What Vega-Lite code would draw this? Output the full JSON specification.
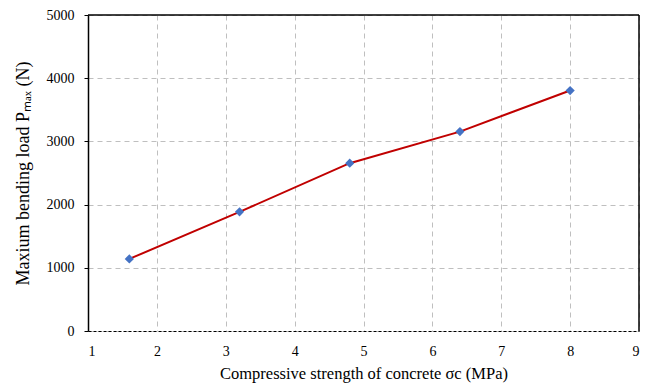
{
  "$schema": "https://vega.github.io/schema/vega-lite/v6.json",
  "width": 551,
  "height": 316,
  "autosize": {"type": "none"},
  "padding": {"left": 88, "top": 15, "right": 11, "bottom": 54},
  "background": "white",
  "config": {
    "view": {"stroke": null},
    "font": "Liberation Serif",
    "axis": {
      "labelFont": "Liberation Serif",
      "titleFont": "Liberation Serif",
      "labelColor": "black",
      "titleColor": "black",
      "labelFontSize": 14,
      "titleFontWeight": "normal",
      "gridColor": "#bfbfbf",
      "gridDash": [5, 4],
      "gridWidth": 1,
      "tickColor": "black",
      "tickSize": 4,
      "format": "d"
    }
  },
  "data": {
    "values": [
      {"strength": 1.6, "load": 1140},
      {"strength": 3.2, "load": 1885},
      {"strength": 4.8, "load": 2655},
      {"strength": 6.4, "load": 3155},
      {"strength": 8.0, "load": 3805}
    ]
  },
  "layer": [
    {
      "mark": {"type": "line", "color": "#c00000", "strokeWidth": 2},
      "encoding": {
        "x": {
          "field": "strength",
          "type": "quantitative",
          "scale": {"domain": [1, 9], "nice": false},
          "axis": {
            "values": [1, 2, 3, 4, 5, 6, 7, 8, 9],
            "format": "d",
            "title": "Compressive strength of concrete σc (MPa)",
            "titleFontSize": 16.5,
            "titlePadding": 7,
            "labelPadding": 13,
            "domainColor": "black",
            "domainDash": [3, 2],
            "domainWidth": 1,
            "ticks": false
          }
        },
        "y": {
          "field": "load",
          "type": "quantitative",
          "scale": {"domain": [0, 5000], "nice": false},
          "axis": {
            "values": [0, 1000, 2000, 3000, 4000, 5000],
            "format": "d",
            "title": "Maxium bending load Pₘₐₓ (N)",
            "titleFontSize": 18,
            "titlePadding": 14,
            "labelPadding": 10,
            "domainColor": "black",
            "domainWidth": 1.5
          }
        }
      }
    },
    {
      "mark": {"type": "point", "shape": "diamond", "filled": true, "color": "#4472c4", "size": 85, "opacity": 1},
      "encoding": {
        "x": {"field": "strength", "type": "quantitative"},
        "y": {"field": "load", "type": "quantitative"}
      }
    },
    {
      "data": {"values": [{"edge": "top"}]},
      "mark": {"type": "rule", "color": "black", "strokeWidth": 1.5},
      "encoding": {"y": {"datum": 5000, "type": "quantitative"}}
    },
    {
      "data": {"values": [{"edge": "right"}]},
      "mark": {"type": "rule", "color": "black", "strokeWidth": 1.5},
      "encoding": {"x": {"datum": 9, "type": "quantitative"}}
    }
  ]
}
